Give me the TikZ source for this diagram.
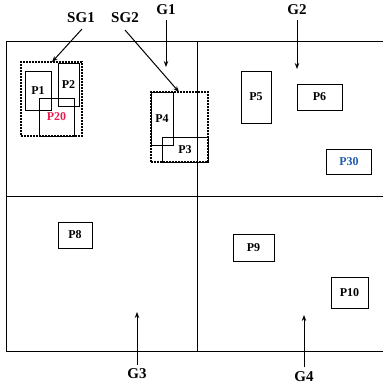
\documentclass[tikz,border=0pt]{standalone}
\usepackage{fontspec}
\setmainfont{Liberation Serif}
\usetikzlibrary{arrows.meta}
\definecolor{pred}{RGB}{230,30,80}
\definecolor{pblue}{RGB}{30,90,175}
\begin{document}
\begin{tikzpicture}[x=1pt,y=-1pt,
  lbl/.style={font=\bfseries\fontsize{15}{15}\selectfont, inner sep=0pt},
  pbox/.style={draw, line width=0.9pt, inner sep=0pt, font=\bfseries\fontsize{12}{12}\selectfont},
  grp/.style={draw, line width=1.3pt, dash pattern=on 2pt off 1pt, inner sep=0pt},
  arr/.style={-{Stealth[length=6pt,width=4.5pt]}, line width=1pt},
  gridline/.style={line width=0.8pt}]
\useasboundingbox (0,0) rectangle (383,392);
% grid
\draw[gridline] (383,41) -- (6,41) -- (6,351) -- (383,351);
\draw[gridline] (6,196) -- (383,196);
\draw[gridline] (197,41) -- (197,351);
% subgroup 1
\node[pbox, minimum width=26, minimum height=39] (p1) at (38,90.5) {P1};
\node[pbox, minimum width=21, minimum height=43] (p2) at (68.5,84.5) {P2};
\node[pbox, minimum width=35, minimum height=38, text=pred] (p20) at (56.5,117) {P20};
\node[grp, minimum width=61, minimum height=74] (sg1box) at (51.5,99) {};
% subgroup 2
\node[pbox, minimum width=22, minimum height=53] (p4) at (162,118.5) {P4};
\node[pbox, minimum width=46, minimum height=25] (p3) at (185,149.5) {P3};
\node[grp, minimum width=57, minimum height=70] (sg2box) at (179.5,127) {};
% other boxes
\node[pbox, minimum width=30, minimum height=52] (p5) at (256,97) {P5};
\node[pbox, minimum width=45, minimum height=26] (p6) at (319.5,97) {P6};
\node[pbox, minimum width=45, minimum height=25, text=pblue] (p30) at (349,161.5) {P30};
\node[pbox, minimum width=34, minimum height=26] (p8) at (75,235) {P8};
\node[pbox, minimum width=41, minimum height=27] (p9) at (253.5,247.5) {P9};
\node[pbox, minimum width=37, minimum height=31] (p10) at (349.5,292.5) {P10};
% labels
\node[lbl] (sg1) at (81,18) {SG1};
\node[lbl] (sg2) at (125,18) {SG2};
\node[lbl] (g1) at (166,10) {G1};
\node[lbl] (g2) at (297,10) {G2};
\node[lbl] (g3) at (137,374) {G3};
\node[lbl] (g4) at (304,377) {G4};
% free ends
\coordinate (sg1s) at (82,29);
\coordinate (sg2s) at (125,30);
\coordinate (sg1t) at (52,62);
\coordinate (sg2t) at (179,92);
\coordinate (g1t) at (166,67);
\coordinate (g2t) at (297,69);
\coordinate (g3t) at (137,312);
\coordinate (g4t) at (304,315);
% arrows
\draw[arr] (sg1s) -- (sg1t);
\draw[arr] (sg2s) -- (sg2t);
\draw[arr] (g1.south |- 0,20) -- (g1t);
\draw[arr] (g2.south |- 0,20) -- (g2t);
\draw[arr] (g3.north |- 0,365) -- (g3t);
\draw[arr] (g4.north |- 0,367) -- (g4t);
\end{tikzpicture}
\end{document}
